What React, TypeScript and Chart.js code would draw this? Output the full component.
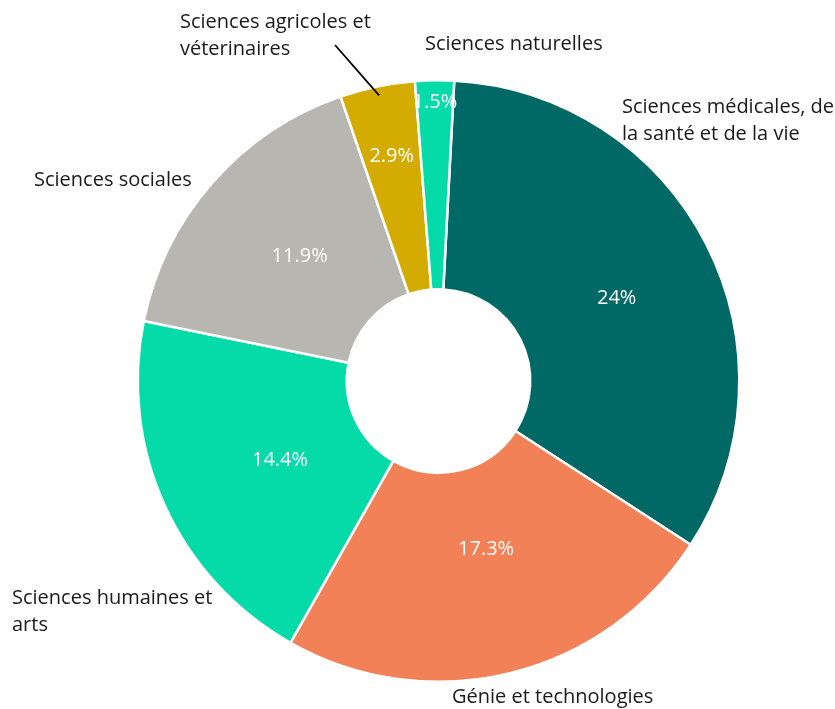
import React, { useEffect, useRef } from "react";
import { Chart, registerables } from "chart.js";

Chart.register(...registerables);

const categories = [
  "Sciences médicales, de la santé et de la vie",
  "Génie et technologies",
  "Sciences humaines et arts",
  "Sciences sociales",
  "Sciences agricoles et véterinaires",
  "Sciences naturelles",
];
const values = [24, 17.3, 14.4, 11.9, 2.9, 1.5];
const valueLabels = ["24%", "17.3%", "14.4%", "11.9%", "2.9%", "1.5%"];
const labelLines = [
  ["Sciences médicales, de", "la santé et de la vie"],
  ["Génie et technologies"],
  ["Sciences humaines et", "arts"],
  ["Sciences sociales"],
  ["Sciences agricoles et", "véterinaires"],
  ["Sciences naturelles"],
];

const colors = ["#006965", "#f28157", "#05dba8", "#b8b6b1", "#d4ab00", "#05dba8"];
// radial position of the value label within the ring (0 = inner, 1 = outer)
const valueLabelRadius = [0.5, 0.4, 0.41, 0.455, 0.66, 0.895];
// angular nudge of the value label from the slice middle (degrees)
const valueLabelAngle = [2.2, -2, -2.2, 0.75, 0, 0];
// outer label anchors (left x, first line middle y) relative to the chart centre
const outerLabelOffsets = [
  [183.5, -274],
  [13.5, 316],
  [-426.5, 217],
  [-404.5, -201],
  [-258.5, -359],
  [-13.5, -337],
];

const FONT = '"Open Sans", sans-serif';

const labelPlugin = {
  id: "labelPlugin",
  afterDatasetsDraw(chart: any) {
    const ctx = chart.ctx;
    const meta = chart.getDatasetMeta(0);
    ctx.save();
    meta.data.forEach((arc: any, i: number) => {
      const { x, y, startAngle, endAngle, innerRadius, outerRadius } = arc.getProps(
        ["x", "y", "startAngle", "endAngle", "innerRadius", "outerRadius"],
        true
      );
      const mid = (startAngle + endAngle) / 2;
      const va = mid + (valueLabelAngle[i] * Math.PI) / 180;
      const r = innerRadius + valueLabelRadius[i] * (outerRadius - innerRadius);
      ctx.fillStyle = "#ffffff";
      ctx.font = `20px ${FONT}`;
      ctx.textAlign = "center";
      ctx.textBaseline = "middle";
      ctx.fillText(valueLabels[i], x + Math.cos(va) * r, y + Math.sin(va) * r);

      const [ox, oy] = outerLabelOffsets[i];
      ctx.fillStyle = "#1a1a1a";
      ctx.font = `20px ${FONT}`;
      ctx.textAlign = "left";
      labelLines[i].forEach((line, j) => {
        ctx.fillText(line, x + ox, y + oy + j * 27);
      });

      if (i === 4) {
        const er = outerRadius - 9;
        ctx.strokeStyle = "#000000";
        ctx.lineWidth = 1.8;
        ctx.beginPath();
        ctx.moveTo(x - 103.5, y - 336);
        ctx.lineTo(x + Math.cos(mid) * er, y + Math.sin(mid) * er);
        ctx.stroke();
      }
    });
    ctx.restore();
  },
};

export default function App() {
  const canvasRef = useRef<HTMLCanvasElement>(null);
  useEffect(() => {
    const canvas = canvasRef.current;
    if (!canvas) return;
    const chart = new Chart(canvas, {
      type: "doughnut",
      data: {
        labels: categories,
        datasets: [
          {
            data: values,
            backgroundColor: colors,
            borderColor: "#ffffff",
            borderWidth: 2.5,
          },
        ],
      },
      options: {
        responsive: false,
        animation: false,
        rotation: 3,
        cutout: "30.5%",
        layout: { padding: { left: 136.5, right: 94.5, top: 79, bottom: 26 } },
        plugins: {
          legend: { display: false },
          tooltip: { enabled: false },
        },
      },
      plugins: [labelPlugin],
    });
    return () => chart.destroy();
  }, []);
  return (
    <div style={{ position: "fixed", left: 0, top: 0, width: 835, height: 709, background: "#fff" }}>
      <canvas ref={canvasRef} width={835} height={709} />
    </div>
  );
}
